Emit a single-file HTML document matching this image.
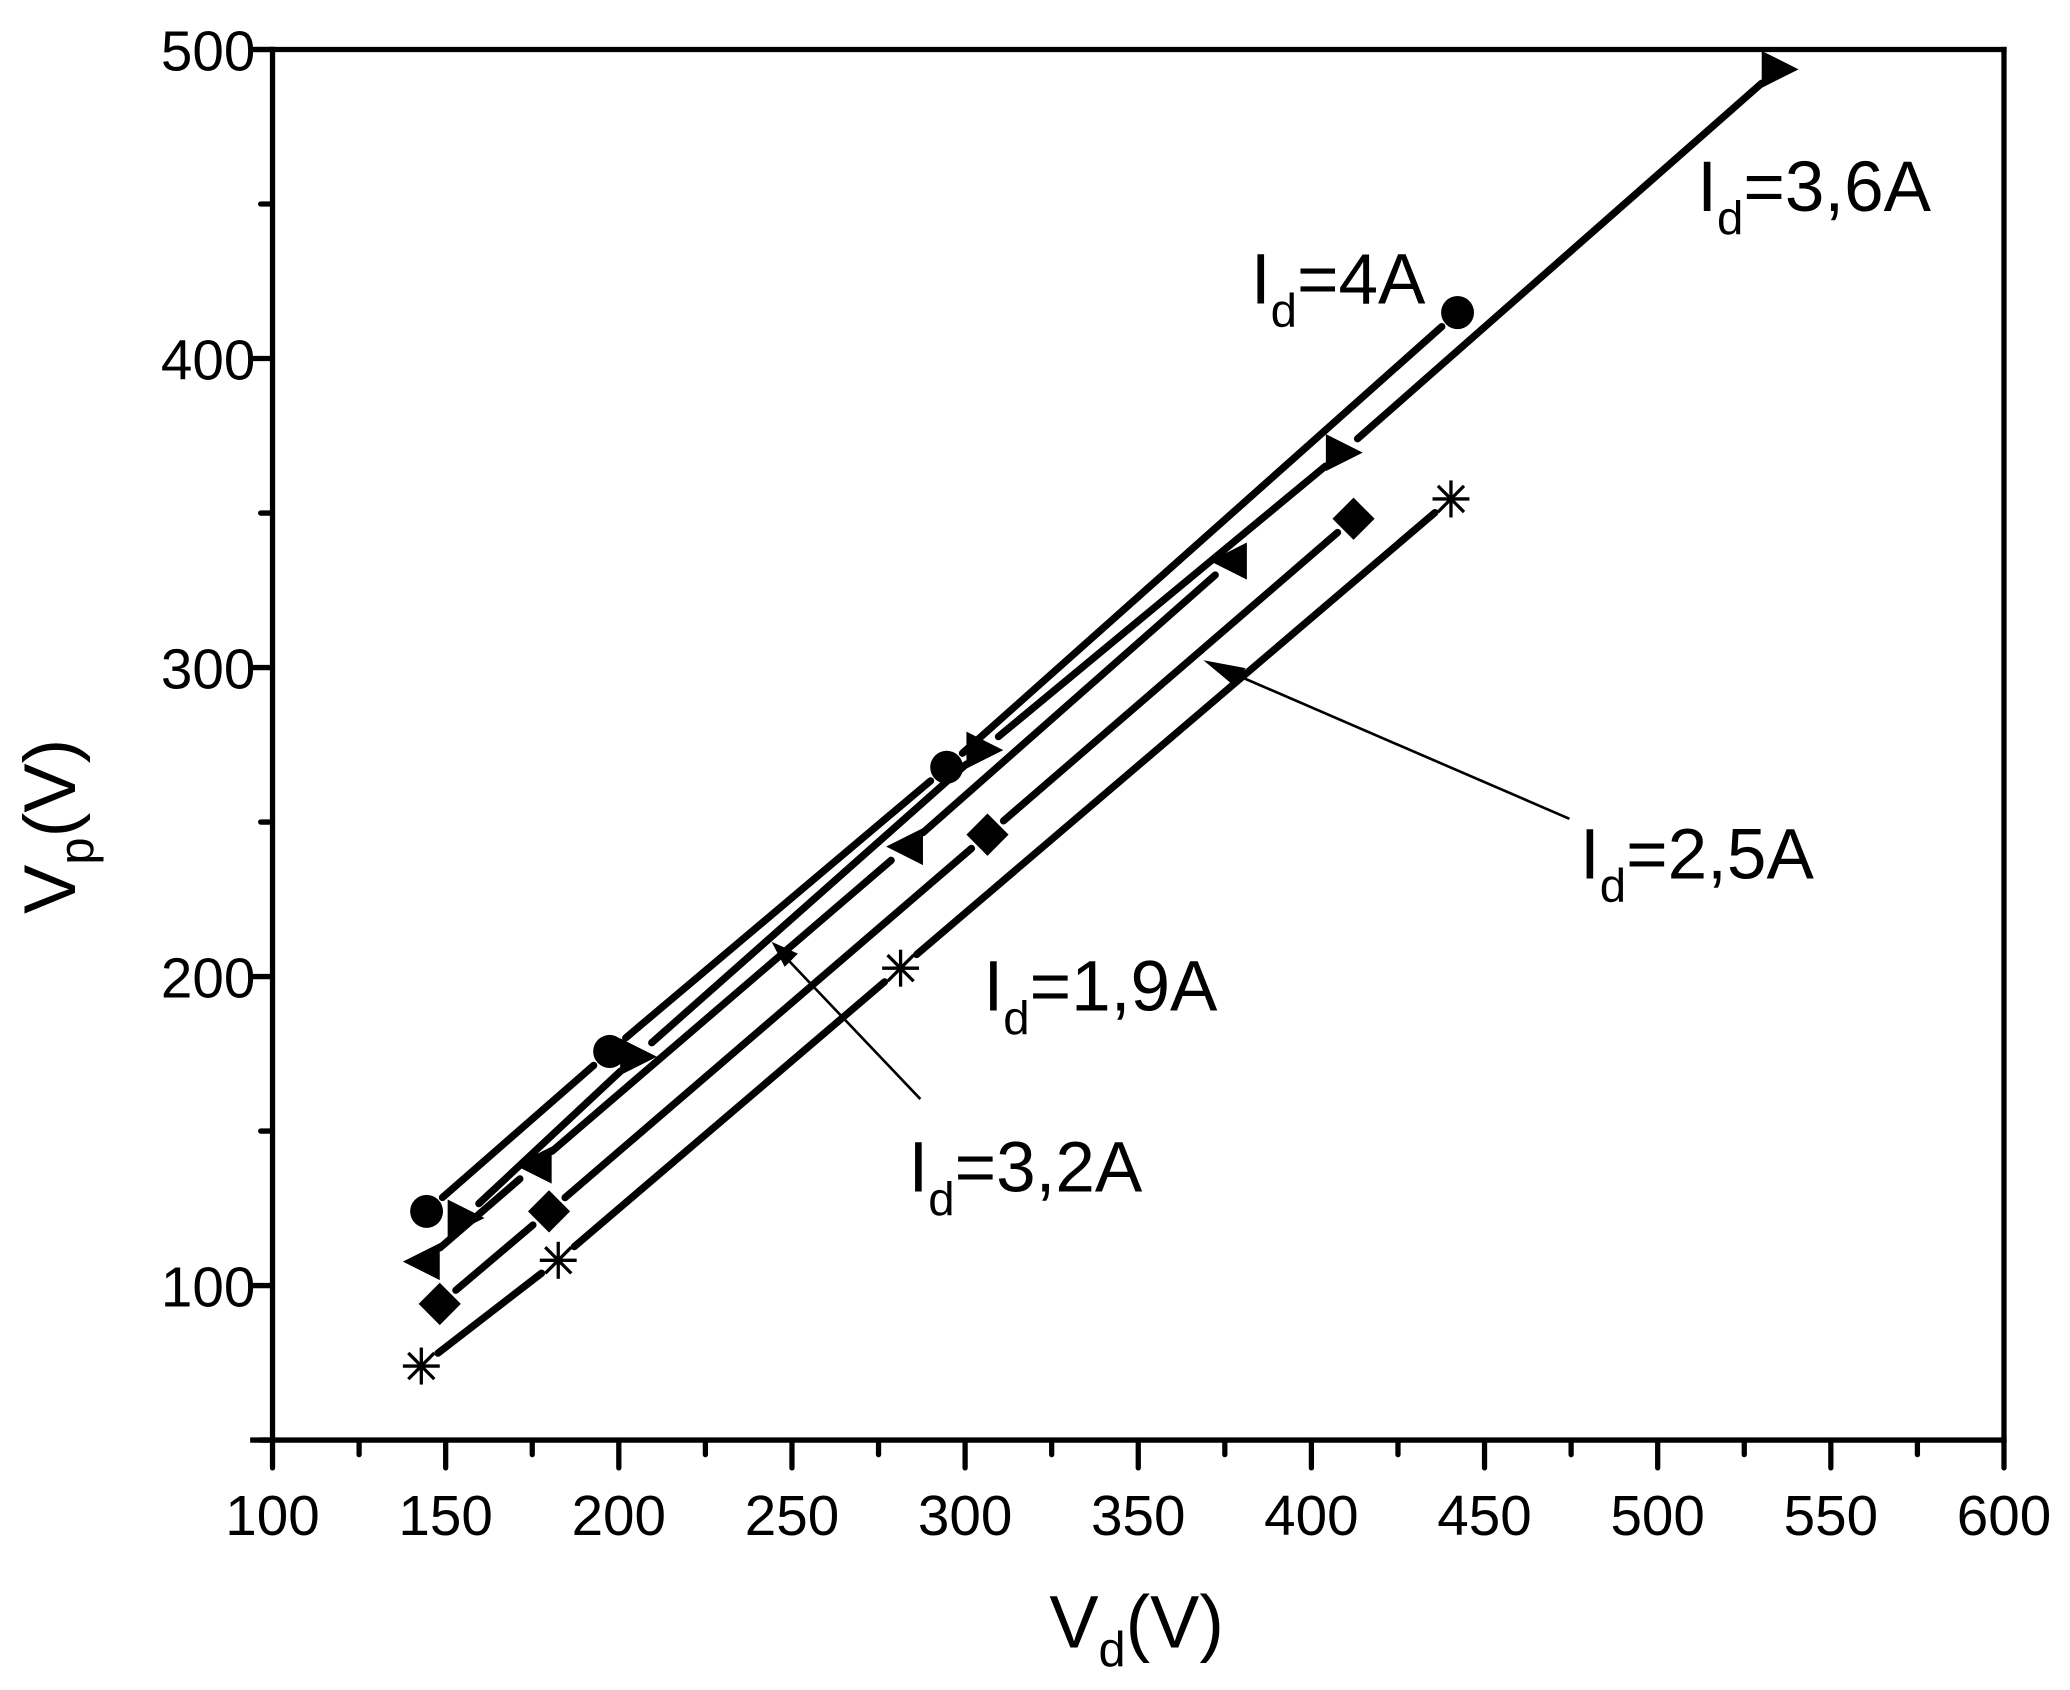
<!DOCTYPE html>
<html><head><meta charset="utf-8"><style>
html,body{margin:0;padding:0;background:#fff;}
svg{display:block;}
text{font-family:"Liberation Sans",Arial,sans-serif;fill:#000;}
</style></head><body>
<svg id="s" width="2070" height="1690" viewBox="0 0 2070 1690" xmlns="http://www.w3.org/2000/svg">
<g id="g" transform="translate(2.6,-0.7) scale(1.3167,1.3218)">
<g stroke="#000" stroke-width="4" fill="none" stroke-linecap="square">
<line x1="205" y1="38" x2="1520" y2="38"/>
<line x1="1520" y1="38" x2="1520" y2="1090"/>
<line x1="205" y1="38" x2="205" y2="1090"/>
<line x1="190" y1="1090" x2="1520" y2="1090"/>
<line x1="190" y1="38" x2="205" y2="38"/>
</g>
<g id="ticks" stroke="#000" stroke-width="4" stroke-linecap="round"></g>
<g font-size="43" id="tl"></g>
<g id="data"></g>
<text x="795" y="1247" font-size="56">V<tspan font-size="37" dy="14">d</tspan><tspan dy="-14">(V)</tspan></text>
<text transform="translate(55,692) rotate(-90)" font-size="56">V<tspan font-size="37" dy="14">p</tspan><tspan dy="-14">(V)</tspan></text>
<g font-size="54">
<text x="1287" y="160">I<tspan font-size="36" dy="18">d</tspan><tspan dy="-18">=3,6A</tspan></text>
<text x="948" y="230">I<tspan font-size="36" dy="18">d</tspan><tspan dy="-18">=4A</tspan></text>
<text x="1198" y="665">I<tspan font-size="36" dy="18">d</tspan><tspan dy="-18">=2,5A</tspan></text>
<text x="745" y="765">I<tspan font-size="36" dy="18">d</tspan><tspan dy="-18">=1,9A</tspan></text>
<text x="688" y="902">I<tspan font-size="36" dy="18">d</tspan><tspan dy="-18">=3,2A</tspan></text>
</g>
<g stroke="#000" stroke-width="2">
<line x1="1190" y1="620" x2="925" y2="506"/>
<line x1="697" y1="832" x2="592" y2="722"/>
</g>
<polygon points="912,500 944,506 936,520" fill="#000"/>
<polygon points="584,713 604,722 594,732" fill="#000"/>
</g>
</svg>
<script>
var NS="http://www.w3.org/2000/svg";
function el(p,t,a){var e=document.createElementNS(NS,t);for(var k in a)e.setAttribute(k,a[k]);p.appendChild(e);return e;}
var tk=document.getElementById('ticks'),tl=document.getElementById('tl'),d=document.getElementById('data');
for(var v=100;v<=600;v+=25){var x=205+(v-100)*2.63;var maj=(v%50==0);
 el(tk,'line',{x1:x,y1:1090,x2:x,y2:1090+(maj?21:11)});
 if(maj){var t=el(tl,'text',{x:x,y:1162,'text-anchor':'middle'});t.textContent=v;}}
for(var v=50;v<=500;v+=50){var y=38+(500-v)*2.3378;var maj=(v%100==0);
 el(tk,'line',{x1:205,y1:y,x2:205-(maj?15:9),y2:y});
 if(maj){var t=el(tl,'text',{x:192,y:y+16,'text-anchor':'end'});t.textContent=v;}}
var S=[
 {m:'c',p:[[322,917],[461,796],[717,581],[1105,237]]},
 {m:'r',p:[[350,922],[481,800],[744,568],[1017,343],[1348,53]]},
 {m:'l',p:[[320,955],[405,882],[687,641],[933,425]]},
 {m:'d',p:[[332,987],[415,917],[748,632],[1026,393]]},
 {m:'s',p:[[318,1034],[422,954],[682,733],[1100,378]]}];
S.forEach(function(s){var p=s.p;
 for(var i=0;i<p.length-1;i++){var a=p[i],b=p[i+1],dx=b[0]-a[0],dy=b[1]-a[1],L=Math.hypot(dx,dy),g=16;
  el(d,'line',{x1:a[0]+dx*g/L,y1:a[1]+dy*g/L,x2:b[0]-dx*g/L,y2:b[1]-dy*g/L,stroke:'#000','stroke-width':5.5,'stroke-linecap':'round'});}
 p.forEach(function(q){var x=q[0],y=q[1];
  if(s.m=='c')el(d,'circle',{cx:x,cy:y,r:12.5,fill:'#000'});
  else if(s.m=='r')el(d,'polygon',{points:(x-12)+','+(y-14)+' '+(x+16)+','+y+' '+(x-12)+','+(y+14),fill:'#000'});
  else if(s.m=='l')el(d,'polygon',{points:(x+12)+','+(y-14)+' '+(x-16)+','+y+' '+(x+12)+','+(y+14),fill:'#000'});
  else if(s.m=='d')el(d,'polygon',{points:x+','+(y-16)+' '+(x+16)+','+y+' '+x+','+(y+16)+' '+(x-16)+','+y,fill:'#000'});
  else{var r=14;[[0,1],[1,0],[0.707,0.707],[0.707,-0.707]].forEach(function(u){el(d,'line',{x1:x-u[0]*r,y1:y-u[1]*r,x2:x+u[0]*r,y2:y+u[1]*r,stroke:'#000','stroke-width':2.5});});}
 });
});
</script>
</body></html>
